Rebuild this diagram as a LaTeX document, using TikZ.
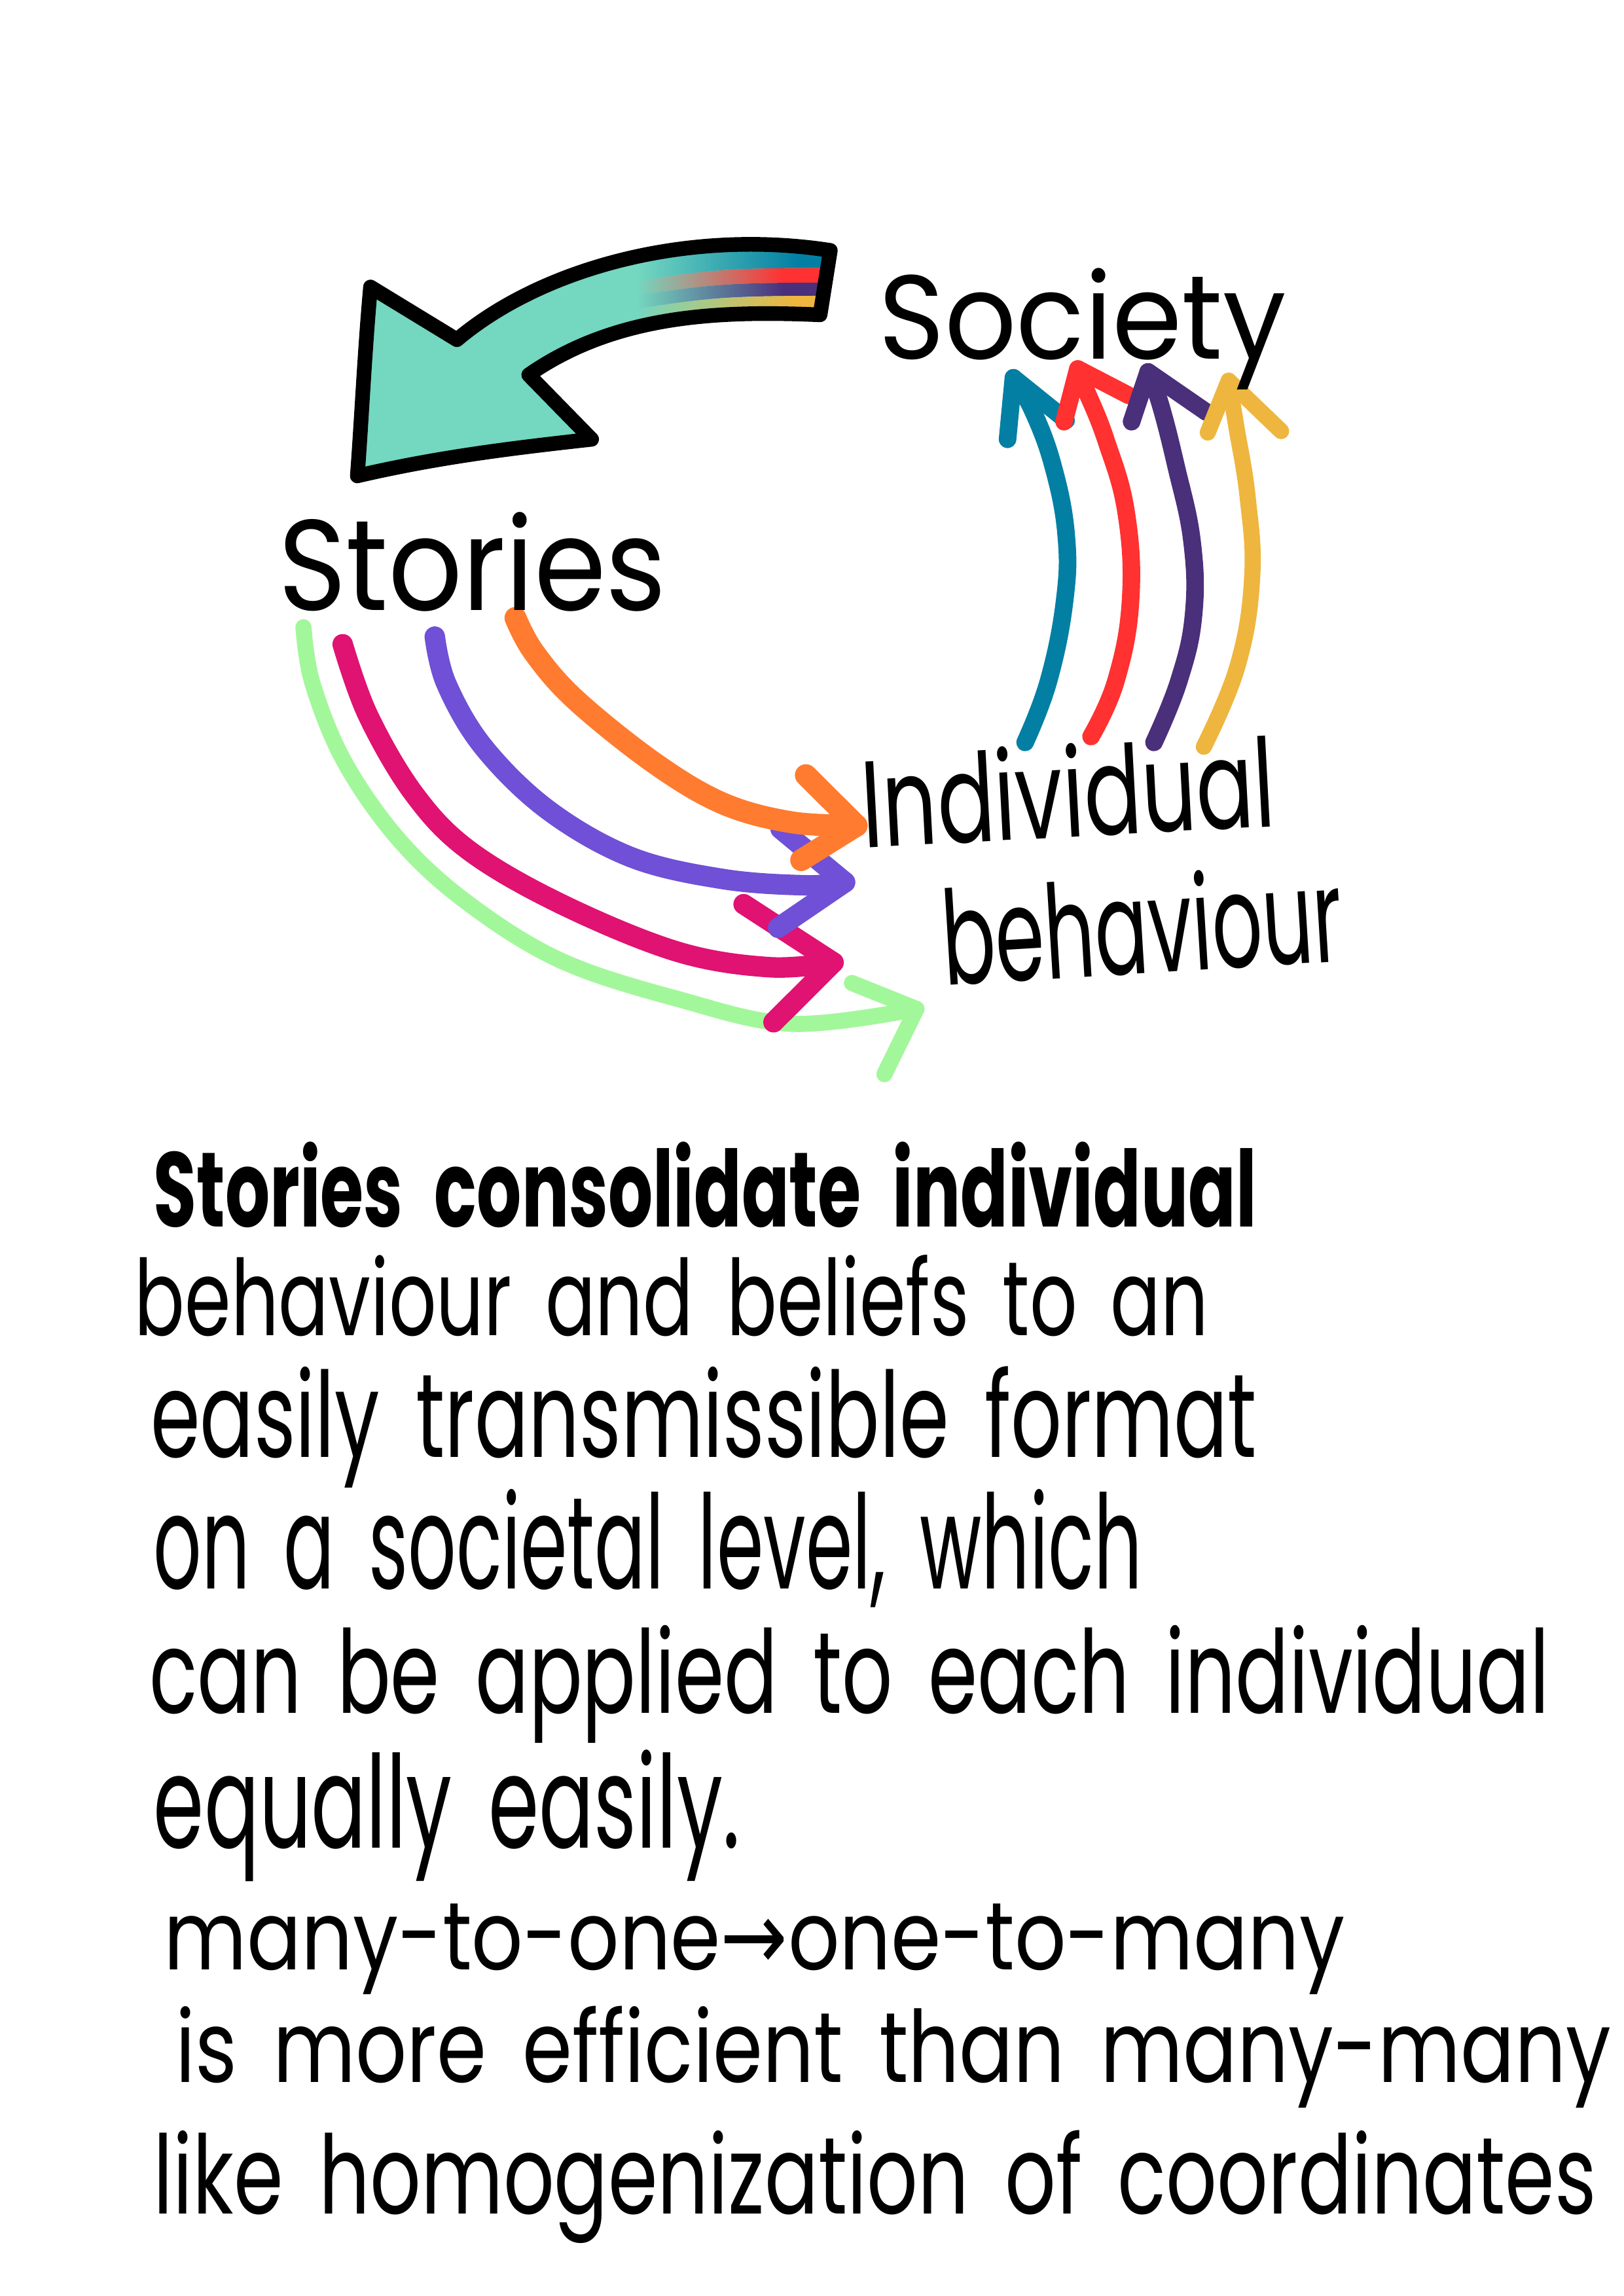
\documentclass[tikz,border=0pt]{standalone}
\usepackage{fontspec}
\setmainfont{Poppins}
\newfontfamily\arrowfont{DejaVu Sans}
\usepackage{graphicx}
\definecolor{cteal}{HTML}{74D7C0}
\definecolor{cblue}{HTML}{037FA4}
\definecolor{cred}{HTML}{FF3131}
\definecolor{cdpurple}{HTML}{4A2F7B}
\definecolor{cyellow}{HTML}{EEB63E}
\definecolor{corange}{HTML}{FF7B2F}
\definecolor{cviolet}{HTML}{6F50D6}
\definecolor{cmagenta}{HTML}{E01272}
\definecolor{cgreen}{HTML}{A3F79B}
\newcommand{\hw}[3]{\resizebox{#1pt}{#2pt}{\spaceskip=0.45em\relax #3}}
\tikzset{
  stroke/.style={line cap=round, line join=round},
  txt/.style={inner sep=0pt, outer sep=0pt, anchor=base west},
}
\begin{document}
\begin{tikzpicture}[x=1pt,y=-1pt]
\fill[white] (0,0) rectangle (1108.6,1568);
\useasboundingbox (0,0) rectangle (1108.6,1568);

% ---- big teal arrow ----
\fill[cteal] (567,171) .. controls (470,156) and (370,183) .. (312,232) -- (253,196)
  .. controls (249,240) and (247,285) .. (244,325) .. controls (300,312) and (350,306) .. (404,300)
  -- (361,256) .. controls (420,215) and (490,212) .. (560,215) -- cycle;
\begin{scope}
  \clip (567,171) .. controls (470,156) and (370,183) .. (312,232) -- (253,196)
  .. controls (249,240) and (247,285) .. (244,325) .. controls (300,312) and (350,306) .. (404,300)
  -- (361,256) .. controls (420,215) and (490,212) .. (560,215) -- cycle;
  \begin{scope}
    \clip (410,140) -- (590,140) -- (590,183) .. controls (490,183) .. (410,196) -- cycle;
    \shade[left color=cteal, right color=cblue] (435,130) rectangle (545,240);
    \fill[cblue] (545,130) rectangle (600,240);
  \end{scope}
  \begin{scope}
    \clip (590,183) .. controls (490,183) .. (410,196) -- (410,206) .. controls (490,193) .. (590,193) -- cycle;
    \shade[left color=cteal, right color=cred] (435,130) rectangle (535,240);
    \fill[cred] (535,130) rectangle (600,240);
  \end{scope}
  \begin{scope}
    \clip (590,193) .. controls (490,193) .. (410,206) -- (410,215) .. controls (490,202) .. (590,202) -- cycle;
    \shade[left color=cteal, right color=cdpurple] (435,130) rectangle (535,240);
    \fill[cdpurple] (535,130) rectangle (600,240);
  \end{scope}
  \begin{scope}
    \clip (590,202) .. controls (490,202) .. (410,215) -- (410,240) -- (590,240) -- cycle;
    \shade[left color=cteal, right color=cyellow] (435,130) rectangle (540,240);
    \fill[cyellow] (540,130) rectangle (600,240);
  \end{scope}
\end{scope}
\draw[stroke, line width=10pt, black] (567,171) .. controls (470,156) and (370,183) .. (312,232) -- (253,196)
  .. controls (249,240) and (247,285) .. (244,325) .. controls (300,312) and (350,306) .. (404,300)
  -- (361,256) .. controls (420,215) and (490,212) .. (560,215) -- cycle;

% ---- upward arrows to Society ----
\draw[stroke, cblue, line width=12pt] plot[smooth, tension=0.7] coordinates {(700,507) (716,465) (727,410) (728,365) (719,318) (705,280) (692,258)};
\draw[stroke, cblue, line width=12pt] (688,300) -- (692,258) -- (728,287);
\draw[stroke, cred, line width=12pt] plot[smooth, tension=0.7] coordinates {(745,503) (762,465) (772,410) (769,350) (755,300) (741,265) (736,252)};
\draw[stroke, cred, line width=12pt] (726.6,288) -- (736,252) -- (770.7,270);
\draw[stroke, cdpurple, line width=12pt] plot[smooth, tension=0.7] coordinates {(788,507) (805,465) (815,420) (814,370) (803,318) (792,275) (784,254)};
\draw[stroke, cdpurple, line width=12pt] (772.7,288) -- (784,254) -- (823.7,281.4);
\draw[stroke, cyellow, line width=11pt] plot[smooth, tension=0.7] coordinates {(822,510) (845,455) (855,395) (852,340) (844,290) (839,260)};
\draw[stroke, cyellow, line width=11pt] (824.7,295.4) -- (839,260) -- (874.8,294.4);

% ---- arrows from Stories to Individual behaviour ----
\draw[stroke, cgreen, line width=11pt] plot[smooth, tension=0.6] coordinates {(207.2,428.3) (213.5,467) (235.5,520.8) (273.3,574.5) (320.5,617.5) (383.4,656.2) (462.1,682) (540.8,699.2) (625.8,689)};
\draw[stroke, cgreen, line width=11pt] (581.7,671.3) -- (625.8,689) -- (603.9,733.6);
\draw[stroke, cmagenta, line width=14pt] plot[smooth, tension=0.6] coordinates {(234,440) (251.3,488.5) (282.8,542.3) (320.5,581) (383.4,617.5) (462.1,649.8) (525,660.5) (569.1,657.3)};
\draw[stroke, cmagenta, line width=14pt] (507.8,617.5) -- (569.1,657.3) -- (528.2,698.1);
\draw[stroke, cviolet, line width=14pt] plot[smooth, tension=0.6] coordinates {(296.9,434.8) (304.8,467) (330,510) (374,553) (430.7,585.3) (493.6,600.3) (550.3,604.6) (577,602.5)};
\draw[stroke, cviolet, line width=14pt] (533,566) -- (577,602.5) -- (531.4,633.6);
\draw[stroke, corange, line width=15pt] plot[smooth, tension=0.6] coordinates {(352,422) (364.6,445.5) (392.9,477.8) (446.4,520.8) (493.6,548.7) (540.8,561.6) (584.9,563.8)};
\draw[stroke, corange, line width=15pt] (550.3,529.4) -- (584.9,563.8) -- (547.1,587.4);

% ---- labels ----
\node[txt] (society) at (600,245) {\hw{278}{62}{Society}};
\node[txt] (stories) at (190,417) {\hw{265}{67}{Stories}};
\node[txt, rotate=3] (indiv) at (590,579) {\hw{282}{64}{Individual}};
\node[txt, rotate=3.5] (behav) at (645,673) {\hw{274}{68}{behaviour}};

% ---- paragraph ----
\node[txt] (l1) at (105,838) {\hw{753}{58}{\bfseries Stories consolidate individual}};
\node[txt] (l2) at (92,912) {\hw{733}{55}{behaviour and beliefs to an}};
\node[txt] (l3) at (103,995) {\hw{755}{62}{easily transmissible format}};
\node[txt] (l4) at (105,1085) {\hw{675}{68}{on a societal level, which}};
\node[txt] (l5) at (102,1170) {\hw{956}{60}{can be applied to each individual}};
\node[txt] (l6) at (105,1262) {\hw{400}{67}{equally easily.}};
\node[txt] (l7) at (112,1345) {\hw{806}{45}{many-to-one{\arrowfont →}one-to-many}};
\node[txt] (l8) at (120,1422) {\hw{980}{52}{is more efficient than many-many}};
\node[txt] (l9) at (105,1512) {\hw{985}{57}{like homogenization of coordinates}};
\end{tikzpicture}
\end{document}
